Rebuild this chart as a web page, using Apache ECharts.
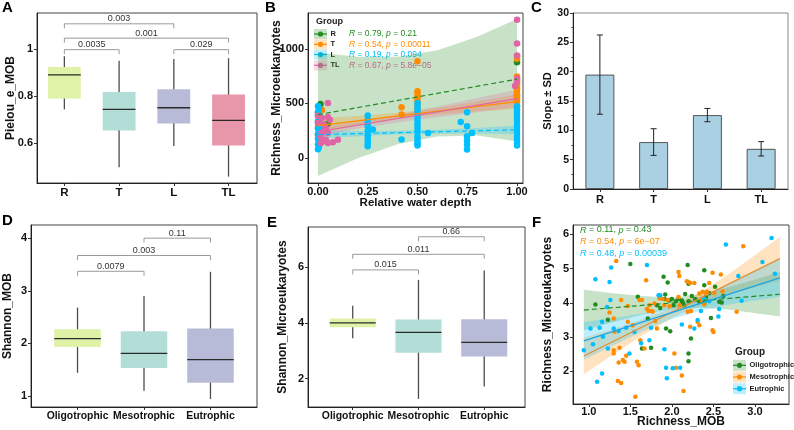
<!DOCTYPE html>
<html>
<head>
<meta charset="utf-8">
<script src="https://cdn.jsdelivr.net/npm/echarts@6/dist/echarts.min.js"></script>
<style>
  html, body { margin: 0; padding: 0; background: #fff; }
  #main { width: 794px; height: 430px; }
</style>
</head>
<body>
<div id="main"></div>
<script>
// ---------- data ----------
// A: Pielou_e_MOB, boxes as [min, Q1, median, Q3, max]
const groupsA = ['R', 'T', 'L', 'TL'];
const boxA = [
  [0.743, 0.789, 0.890, 0.923, 0.969],
  [0.497, 0.653, 0.743, 0.817, 0.950],
  [0.587, 0.683, 0.750, 0.829, 0.957],
  [0.457, 0.589, 0.696, 0.806, 0.961]
];
// brackets: [from group, to group, height, p label]
const bracketsA = [[1, 3, 1.107, '0.003'], [1, 4, 1.046, '0.001'], [1, 2, 0.997, '0.0035'], [3, 4, 0.997, '0.029']];

// B: Richness_Microeukaryotes vs relative water depth
const ptsR_B = [[0.013, 495], [0.05, 315], [1, 878], [1, 570]];
const ptsT_B = [
  [0, 420], [0.005, 395], [0.01, 370], [0, 340], [0.012, 310], [0, 280], [0.008, 250], [0, 215], [0.015, 190], [0.02, 440], [0.005, 165],
  [0.42, 465], [0.42, 398],
  [0.5, 887], [0.5, 612], [0.5, 590], [0.5, 560], [0.5, 530], [0.5, 500], [0.5, 470], [0.5, 445],
  [1, 933], [1, 910], [1, 748], [1, 720], [1, 690], [1, 665], [1, 640], [1, 615], [1, 590], [1, 560], [1, 530], [1, 505], [1, 470], [1, 440]
];
const ptsL_B = [
  [0, 475], [0.005, 450], [0, 420], [0, 390], [0.01, 360], [0, 330], [0.005, 300], [0, 270], [0.01, 245], [0, 220], [0.005, 200],
  [0, 175], [0.01, 150], [0, 125], [0.005, 100], [0, 80], [0.02, 265], [0.015, 305],
  [0.25, 390], [0.25, 350], [0.25, 320], [0.25, 290], [0.25, 250], [0.25, 210], [0.25, 180], [0.25, 150], [0.25, 125], [0.25, 108], [0.276, 260],
  [0.42, 170],
  [0.5, 505], [0.5, 480], [0.5, 450], [0.5, 420], [0.5, 390], [0.5, 360], [0.5, 330], [0.5, 300], [0.5, 270], [0.5, 240], [0.5, 200],
  [0.5, 170], [0.5, 140], [0.5, 115], [0.5, 130], [0.553, 229],
  [0.717, 330], [0.749, 419], [0.749, 290], [0.749, 200], [0.749, 160], [0.749, 120], [0.749, 77], [0.774, 229],
  [1, 474], [1, 440], [1, 410], [1, 380], [1, 350], [1, 320], [1, 290], [1, 260], [1, 230], [1, 200], [1, 170], [1, 140], [1, 115]
];
const ptsTL_B = [
  [0, 388], [0.02, 367], [0.05, 376], [0.05, 505], [0.03, 306], [0.01, 199], [0.015, 138], [0.025, 153], [0.04, 168], [0.05, 138],
  [0.075, 144], [0.1, 168], [0.03, 245], [0.05, 229], [0.04, 275], [0, 320], [0.02, 230], [0.06, 350],
  [1, 1269], [1, 1049], [1, 939], [1, 729], [1, 700], [0.99, 660]
];
const fitX_B = [0, 1];
const fitR_B = [397, 723];
const fitT_B = [297, 517];
const fitL_B = [214, 258];
const fitTL_B = [240, 545];
const bandX_B = [0, 0.2, 0.4, 0.6, 0.8, 1];
const bandR_hi = [968, 928, 928, 989, 1111, 1275];
const bandR_lo = [-165, -4, 126, 197, 205, 150];
const bandT_hi = [362, 386, 415, 459, 518, 582];
const bandT_lo = [232, 296, 355, 399, 428, 452];
const bandL_hi = [249, 248, 250, 258, 274, 298];
const bandL_lo = [179, 198, 214, 222, 224, 218];
const bandTL_hi = [280, 332, 396, 473, 550, 625];
const bandTL_lo = [200, 268, 326, 373, 420, 465];
const statsB = [['0.79', '0.21'], ['0.54', '0.00011'], ['0.19', '0.094'], ['0.67', '5.8e\u221205']];

// C: slope +- SD
const groupsC = ['R', 'T', 'L', 'TL'];
const slopeMean = [19.5, 8.0, 12.6, 6.85];
const slopeSD = [6.75, 2.27, 1.13, 1.22];

// D / E: trophic state boxes
const trophic = ['Oligotrophic', 'Mesotrophic', 'Eutrophic'];
const boxD = [
  [1.44, 1.93, 2.09, 2.27, 2.68],
  [1.10, 1.53, 1.81, 2.23, 2.90],
  [0.94, 1.25, 1.69, 2.28, 3.36]
];
const bracketsD = [[2, 3, 4.0, '0.11'], [1, 3, 3.67, '0.003'], [1, 2, 3.37, '0.0079']];
const boxE = [
  [3.45, 3.84, 4.00, 4.16, 4.61],
  [1.27, 2.93, 3.66, 4.12, 5.54],
  [1.72, 2.79, 3.30, 4.13, 5.88]
];
const bracketsE = [[2, 3, 7.09, '0.66'], [1, 3, 6.46, '0.011'], [1, 2, 5.90, '0.015']];

// F: Richness_Microeukaryotes vs Richness_MOB
const ptsOligo_F = [
  [1.08, 3.95], [1.23, 3.51], [1.50, 5.13], [1.59, 4.18], [1.71, 3.54], [1.75, 2.69], [1.64, 2.67], [1.82, 3.93], [1.86, 3.85], [1.90, 4.76],
  [1.92, 4.24], [1.95, 4.59], [1.91, 4.11], [1.97, 4.07], [2.00, 4.11], [2.02, 3.93], [1.93, 3.25], [1.98, 3.17], [2.08, 4.11], [2.12, 4.07],
  [2.13, 4.01], [2.16, 4.26], [2.19, 5.10], [2.20, 4.56], [2.20, 4.05], [2.24, 4.20], [2.23, 2.96], [2.20, 2.52], [2.20, 2.30], [2.28, 4.11],
  [2.37, 4.07], [2.39, 4.95], [2.39, 4.51], [2.39, 3.97], [2.41, 4.17], [2.45, 4.28], [2.47, 3.56], [2.52, 4.47], [2.57, 4.03], [2.60, 4.01],
  [2.62, 4.20], [2.15, 3.93], [2.05, 4.05], [2.33, 4.03]
];
const ptsMeso_F = [
  [1.33, 5.22], [1.39, 4.08], [1.30, 3.54], [1.31, 3.16], [1.30, 2.62], [1.37, 2.69], [1.30, 2.52], [1.36, 2.26], [1.43, 2.28], [1.45, 2.46],
  [1.41, 2.33], [1.35, 1.72], [1.39, 1.66], [1.47, 3.45], [1.53, 3.35], [1.56, 1.26], [1.58, 2.28], [1.60, 2.18], [1.62, 2.91], [1.61, 4.08],
  [1.64, 4.08], [1.67, 2.67], [1.69, 4.66], [1.70, 3.82], [1.72, 3.76], [1.75, 3.76], [1.77, 3.74], [1.80, 3.47], [1.82, 3.25], [1.85, 4.13],
  [1.89, 4.11], [1.91, 3.93], [1.95, 4.08], [1.97, 3.90], [2.03, 2.52], [2.05, 2.11], [2.08, 4.17], [2.09, 3.93], [2.08, 4.90], [2.09, 4.78],
  [2.14, 1.43], [2.18, 4.63], [2.20, 4.61], [2.22, 4.58], [2.19, 3.74], [2.23, 3.76], [2.27, 4.58], [2.31, 3.45], [2.33, 4.27], [2.35, 4.08],
  [2.37, 4.32], [2.39, 3.95], [2.41, 4.29], [2.42, 4.32], [2.45, 4.58], [2.49, 3.20], [2.49, 4.88], [2.51, 4.29], [2.59, 4.83], [2.61, 4.34],
  [2.78, 3.74], [2.86, 5.65], [1.79, 3.98], [1.73, 3.93], [1.47, 3.91], [2.12, 1.88], [2.22, 3.30], [2.33, 3.35], [2.50, 3.15], [1.25, 3.72]
];
const ptsEutro_F = [
  [1.08, 4.69], [1.27, 5.03], [1.25, 4.61], [1.26, 4.08], [1.22, 3.88], [1.16, 3.45], [1.02, 3.25], [1.13, 3.27], [1.17, 3.01], [1.05, 2.79],
  [0.94, 2.62], [1.23, 2.67], [1.10, 1.70], [1.16, 1.94], [1.36, 3.18], [1.45, 3.27], [1.49, 2.52], [1.70, 5.10], [1.73, 2.91], [1.63, 2.82],
  [1.84, 4.22], [1.86, 4.22], [1.75, 3.27], [1.93, 2.11], [1.94, 1.80], [2.01, 2.09], [2.10, 2.11], [1.91, 2.65], [2.12, 3.37], [2.27, 3.25],
  [2.31, 3.50], [2.35, 3.76], [2.45, 4.05], [2.57, 3.82], [2.65, 5.70], [2.80, 4.78], [2.84, 4.06], [3.09, 5.19], [3.20, 5.89], [3.24, 4.85],
  [2.39, 4.11], [1.30, 3.25], [1.55, 3.15], [2.56, 3.60]
];
const fitX_F = [0.94, 3.3];
const fitOligo_F = [3.79, 4.25];
const fitMeso_F = [2.45, 5.29];
const fitEutro_F = [2.89, 4.73];
const bandX_F = [0.94, 1.3, 1.65, 2.0, 2.35, 2.7, 3.3];
const bandOligo_hi = [4.38, 4.28, 4.20, 4.15, 4.26, 4.46, 4.90];
const bandOligo_lo = [3.20, 3.44, 3.66, 3.83, 3.86, 3.80, 3.60];
const bandMeso_hi = [2.98, 3.24, 3.52, 3.86, 4.31, 4.86, 5.92];
const bandMeso_lo = [1.92, 2.50, 3.06, 3.56, 3.95, 4.26, 4.66];
const bandEutro_hi = [3.44, 3.56, 3.69, 3.89, 4.18, 4.56, 5.28];
const bandEutro_lo = [2.34, 2.76, 3.17, 3.53, 3.78, 3.96, 4.18];
const statsF = [['0.11', '0.43'], ['0.54', '6e\u221207'], ['0.48', '0.00039']];

// ---------- style ----------
// narrow face if present (the figure text is horizontally squeezed)
const probe = document.createElement('canvas').getContext('2d');
function probeWidth(f) { probe.font = f; return probe.measureText('Richness_Microeukaryotes 0.00011').width; }
const HAS_NARROW = probeWidth('20px "Liberation Sans Narrow", monospace') !== probeWidth('20px monospace');
const FONT = HAS_NARROW ? '"Liberation Sans Narrow", "Liberation Sans", sans-serif' : '"Liberation Sans", Arial, sans-serif';
const K = HAS_NARROW ? 1.1 : 1;
function fs(n) { return Math.round(n * K * 10) / 10; }

const GREEN = '#228B22', ORANGE = '#FF8C00', CYAN = '#00BFFF', PINK = '#E066A3';
const BOX_COLORS = ['#e0f1a8', '#b3ded8', '#b8bbd8', '#e897aa'];
function alpha(c, a) {
  const n = parseInt(c.slice(1), 16);
  return 'rgba(' + (n >> 16) + ',' + ((n >> 8) & 255) + ',' + (n & 255) + ',' + a + ')';
}

const chart = echarts.init(document.getElementById('main'));

function grid(left, top, width, height, border) {
  return { left, top, width, height, show: true, borderColor: border || '#444', borderWidth: 1, outerBoundsMode: 'none' };
}

function valAxis(gi, min, max, ticks, fmt, labelSize, name, gap, nameSize, margin) {
  return {
    type: 'value', gridIndex: gi, min: min, max: max,
    axisLine: { show: true, onZero: false, lineStyle: { color: '#222', width: 1 } },
    axisTick: { show: true, length: 3, customValues: ticks, lineStyle: { color: '#333' } },
    axisLabel: { customValues: ticks, formatter: fmt, color: '#111', fontWeight: 'bold', fontSize: fs(labelSize), fontFamily: FONT, margin: margin || 4 },
    splitLine: { show: false },
    name: name || '', nameLocation: 'middle', nameGap: gap || 0, nameMoveOverlap: false,
    nameTextStyle: { color: '#111', fontWeight: 'bold', fontSize: fs(nameSize || 11.5), fontFamily: FONT }
  };
}

function boxSeries(gi, boxes, colors, frac) {
  return {
    type: 'custom', xAxisIndex: gi, yAxisIndex: gi, z: 2, silent: true,
    data: boxes.map((b, i) => [i + 1].concat(b)),
    renderItem: function (params, api) {
      const x = api.value(0);
      const half = api.size([1, 0])[0] * frac / 2;
      const lo = api.coord([x, api.value(1)]);
      const q1 = api.coord([x, api.value(2)]);
      const md = api.coord([x, api.value(3)]);
      const q3 = api.coord([x, api.value(4)]);
      const hi = api.coord([x, api.value(5)]);
      const cx = md[0];
      return {
        type: 'group', children: [
          { type: 'line', shape: { x1: cx, y1: lo[1], x2: cx, y2: hi[1] }, style: { stroke: '#4d4d4d', lineWidth: 1.3 } },
          { type: 'rect', shape: { x: cx - half, y: q3[1], width: 2 * half, height: q1[1] - q3[1] }, style: { fill: colors[params.dataIndex], stroke: null } },
          { type: 'line', shape: { x1: cx - half, y1: md[1], x2: cx + half, y2: md[1] }, style: { stroke: '#2b2b2b', lineWidth: 1.3 } }
        ]
      };
    }
  };
}

function bracketSeries(gi, list) {
  return {
    type: 'custom', xAxisIndex: gi, yAxisIndex: gi, z: 3, silent: true,
    data: list.map(b => [b[0], b[2]]),
    renderItem: function (params, api) {
      const b = list[params.dataIndex];
      const p1 = api.coord([b[0], b[2]]);
      const p2 = api.coord([b[1], b[2]]);
      return {
        type: 'group', children: [
          { type: 'polyline', shape: { points: [[p1[0], p1[1] + 4.5], [p1[0], p1[1]], [p2[0], p2[1]], [p2[0], p2[1] + 4.5]] },
            style: { stroke: '#9a9a9a', lineWidth: 1, fill: null } },
          { type: 'text', x: (p1[0] + p2[0]) / 2, y: p1[1] - 0.5,
            style: { text: b[3], fill: '#333', fontSize: fs(9), fontFamily: FONT, align: 'center', verticalAlign: 'bottom' } }
        ]
      };
    }
  };
}

function bandSeries(gi, xs, hi, lo, color) {
  return {
    type: 'custom', xAxisIndex: gi, yAxisIndex: gi, z: 1, silent: true,
    data: [[xs[0], hi[0]]],
    renderItem: function (params, api) {
      const pts = [];
      for (let i = 0; i < xs.length; i++) pts.push(api.coord([xs[i], hi[i]]));
      for (let i = xs.length - 1; i >= 0; i--) pts.push(api.coord([xs[i], lo[i]]));
      return { type: 'polygon', shape: { points: pts, smooth: 0 }, style: { fill: alpha(color, 0.25) } };
    }
  };
}

function scatterSeries(gi, pts, color, size) {
  return { type: 'scatter', xAxisIndex: gi, yAxisIndex: gi, z: 2, data: pts, symbolSize: size, itemStyle: { color: color, opacity: 1 }, silent: true };
}

function fitSeries(gi, xs, ys, color, dashed) {
  return {
    type: 'line', xAxisIndex: gi, yAxisIndex: gi, z: 3, silent: true, symbol: 'none',
    data: xs.map((x, i) => [x, ys[i]]),
    lineStyle: { color: color, width: 1.2, type: dashed ? [5, 3] : 'solid' }
  };
}

// ---------- graphic: panel letters, legends, R/p labels ----------
const graphics = [];
[['A', 2, 0], ['B', 265, 0], ['C', 531, 0], ['D', 2, 213], ['E', 267, 215], ['F', 532, 215]].forEach(function (l) {
  graphics.push({ type: 'text', x: l[1], y: l[2], style: { text: l[0], fontSize: 15, fontWeight: 'bold', fontFamily: '"Liberation Sans", Arial, sans-serif', fill: '#000' } });
});

function statText(x, y, vals, color, size) {
  graphics.push({
    type: 'text', x: x, y: y,
    style: {
      text: '{i|R} = ' + vals[0] + ', {i|p} = ' + vals[1],
      fill: color, fontSize: fs(size), fontFamily: FONT, verticalAlign: 'middle',
      rich: { i: { fontStyle: 'italic', fill: color, fontSize: fs(size), fontFamily: FONT } }
    }
  });
}

function legendBlock(x, titleY, rowsY, names, colors, keyW, keyH, titleSize, labelSize) {
  graphics.push({ type: 'text', x: x + 2, y: titleY, style: { text: 'Group', fontSize: fs(titleSize), fontWeight: 'bold', fontFamily: FONT, fill: '#222', verticalAlign: 'middle' } });
  names.forEach(function (n, i) {
    const y = rowsY[i];
    graphics.push({ type: 'rect', shape: { x: x, y: y - keyH / 2, width: keyW, height: keyH }, style: { fill: alpha(colors[i], 0.25) } });
    graphics.push({ type: 'line', shape: { x1: x, y1: y, x2: x + keyW, y2: y }, style: { stroke: colors[i], lineWidth: 1.2 } });
    graphics.push({ type: 'circle', shape: { cx: x + keyW / 2, cy: y, r: 2.6 }, style: { fill: colors[i] } });
    graphics.push({ type: 'text', x: x + keyW + 3.5, y: y, style: { text: n, fontSize: fs(labelSize), fontWeight: 'bold', fontFamily: FONT, fill: '#222', verticalAlign: 'middle' } });
  });
}

const rowsB = [34, 44.3, 54.5, 65.3];
legendBlock(314, 21.5, rowsB, groupsA, [GREEN, ORANGE, CYAN, PINK], 13, 10, 9, 7.5);
statsB.forEach(function (s, i) { statText(349, rowsB[i], s, [GREEN, ORANGE, CYAN, PINK][i], 8.5); });

legendBlock(733, 352, [365.3, 377, 388.7], trophic, [GREEN, ORANGE, CYAN], 13, 11, 10, 7.5);
[230, 241.5, 253.5].forEach(function (y, i) { statText(580, y, statsF[i], [GREEN, ORANGE, CYAN][i], 9); });

// ---------- option ----------
const option = {
  animation: false,
  backgroundColor: '#fff',
  textStyle: { fontFamily: FONT },
  grid: [
    grid(37, 13, 220, 170),
    grid(308, 13, 215, 170),
    grid(573, 13, 215, 176, '#888'),
    grid(31, 225, 226, 182),
    grid(308, 227, 217, 180),
    grid(573, 225, 216, 179)
  ],
  xAxis: [
    valAxis(0, 0.5, 4.52, [1, 2, 3, 4], v => groupsA[Math.round(v) - 1], 11.5),
    valAxis(1, -0.05, 1.03, [0, 0.25, 0.5, 0.75, 1], v => v.toFixed(2), 11, 'Relative water depth', 14, 11.5, 3),
    {
      type: 'category', gridIndex: 2, data: groupsC,
      axisLine: { show: true, lineStyle: { color: '#222' } },
      axisTick: { show: true, length: 3, alignWithLabel: true, lineStyle: { color: '#333' } },
      axisLabel: { color: '#111', fontWeight: 'bold', fontSize: fs(11), fontFamily: FONT, margin: 5 }
    },
    valAxis(3, 0.3, 3.7, [1, 2, 3], v => trophic[Math.round(v) - 1], 10.4),
    valAxis(4, 0.32, 3.62, [1, 2, 3], v => trophic[Math.round(v) - 1], 10.4),
    valAxis(5, 0.81, 3.41, [1, 1.5, 2, 2.5, 3], v => v.toFixed(1), 11, 'Richness_MOB', 12, 12, 2)
  ],
  yAxis: [
    valAxis(0, 0.43, 1.153, [0.6, 0.8, 1], v => (Math.abs(v - 1) < 1e-9 ? '1' : v.toFixed(1)), 11, 'Pielou_e_MOB', 20, 12),
    valAxis(1, -230, 1330, [0, 500, 1000], v => String(Math.round(v)), 11, 'Richness_Microeukaryotes', 25, 12),
    {
      type: 'value', gridIndex: 2, min: 0, max: 30, interval: 5,
      axisLine: { show: true, lineStyle: { color: '#222' } },
      axisTick: { show: true, length: 3, lineStyle: { color: '#333' } },
      minorTick: { show: true, splitNumber: 2, length: 2, lineStyle: { color: '#666' } },
      axisLabel: { color: '#111', fontWeight: 'bold', fontSize: fs(10.5), fontFamily: FONT, margin: 4 },
      splitLine: { show: false },
      name: 'Slope \u00b1 SD', nameLocation: 'middle', nameGap: 20, nameMoveOverlap: false,
      nameTextStyle: { color: '#111', fontWeight: 'bold', fontSize: fs(11), fontFamily: FONT }
    },
    valAxis(3, 0.79, 4.25, [1, 2, 3, 4], v => String(Math.round(v)), 11, 'Shannon_MOB', 17, 12),
    valAxis(4, 0.98, 7.44, [2, 4, 6], v => String(Math.round(v)), 11, 'Shannon_Microeukaryotes', 19, 12),
    valAxis(5, 1.05, 6.27, [2, 3, 4, 5, 6], v => String(Math.round(v)), 11, 'Richness_Microeukaryotes', 19, 12)
  ],
  series: [
    // A
    boxSeries(0, boxA, BOX_COLORS, 0.6),
    bracketSeries(0, bracketsA),
    // B
    bandSeries(1, bandX_B, bandR_hi, bandR_lo, GREEN),
    bandSeries(1, bandX_B, bandT_hi, bandT_lo, ORANGE),
    bandSeries(1, bandX_B, bandL_hi, bandL_lo, CYAN),
    bandSeries(1, bandX_B, bandTL_hi, bandTL_lo, PINK),
    scatterSeries(1, ptsR_B, GREEN, 6.5),
    scatterSeries(1, ptsT_B, ORANGE, 6.5),
    scatterSeries(1, ptsL_B, CYAN, 6.5),
    scatterSeries(1, ptsTL_B, PINK, 6.5),
    fitSeries(1, fitX_B, fitR_B, GREEN, true),
    fitSeries(1, fitX_B, fitT_B, ORANGE, false),
    fitSeries(1, fitX_B, fitL_B, CYAN, true),
    fitSeries(1, fitX_B, fitTL_B, PINK, false),
    // C
    {
      type: 'bar', xAxisIndex: 2, yAxisIndex: 2, data: slopeMean, barWidth: 29, silent: true,
      itemStyle: { color: '#a9d0e3', borderColor: '#555', borderWidth: 1 }
    },
    {
      type: 'custom', xAxisIndex: 2, yAxisIndex: 2, z: 3, silent: true,
      data: slopeMean.map((m, i) => [i, m - slopeSD[i], m + slopeSD[i]]),
      renderItem: function (params, api) {
        const lo = api.coord([api.value(0), api.value(1)]);
        const hi = api.coord([api.value(0), api.value(2)]);
        const s = { stroke: '#222', lineWidth: 1 };
        return {
          type: 'group', children: [
            { type: 'line', shape: { x1: lo[0], y1: lo[1], x2: hi[0], y2: hi[1] }, style: s },
            { type: 'line', shape: { x1: lo[0] - 3, y1: lo[1], x2: lo[0] + 3, y2: lo[1] }, style: s },
            { type: 'line', shape: { x1: hi[0] - 3, y1: hi[1], x2: hi[0] + 3, y2: hi[1] }, style: s }
          ]
        };
      }
    },
    // D
    boxSeries(3, boxD, BOX_COLORS, 0.7),
    bracketSeries(3, bracketsD),
    // E
    boxSeries(4, boxE, BOX_COLORS, 0.7),
    bracketSeries(4, bracketsE),
    // F
    bandSeries(5, bandX_F, bandOligo_hi, bandOligo_lo, GREEN),
    bandSeries(5, bandX_F, bandMeso_hi, bandMeso_lo, ORANGE),
    bandSeries(5, bandX_F, bandEutro_hi, bandEutro_lo, CYAN),
    scatterSeries(5, ptsOligo_F, GREEN, 4.5),
    scatterSeries(5, ptsMeso_F, ORANGE, 4.5),
    scatterSeries(5, ptsEutro_F, CYAN, 4.5),
    fitSeries(5, fitX_F, fitOligo_F, GREEN, true),
    fitSeries(5, fitX_F, fitMeso_F, '#d9913a', false),
    fitSeries(5, fitX_F, fitEutro_F, '#1aa7e6', false)
  ],
  graphic: { elements: graphics }
};

chart.setOption(option);
</script>
</body>
</html>
